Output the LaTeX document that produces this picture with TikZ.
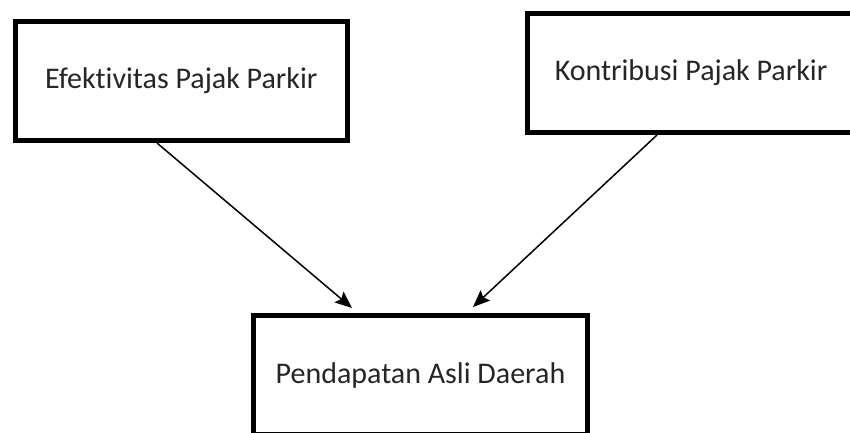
\documentclass[tikz,border=0pt]{standalone}
\usepackage{fontspec}
\setmainfont{Carlito}[Ligatures=NoCommon]
\usetikzlibrary{arrows.meta}

\begin{document}
\begin{tikzpicture}[x=1pt, y=1pt]
	\tikzset{box/.style = {draw, rectangle, line width=5pt, inner sep=0pt,
	minimum height=119pt, text=black!85, font=\fontsize{30}{36}\selectfont}}
	\tikzset{link/.style = {line width=1.5pt,
	-{Stealth[length=17pt, width=14pt, inset=3pt]}}}
	
	\useasboundingbox (0, 0) rectangle (850, 432);
	
	\node[box, minimum width=332.5pt] (efektivitas) at (181.25, 351)
	{Efektivitas Pajak Parkir};
	\node[box, minimum width=327pt] (kontribusi) at (691, 359)
	{Kontribusi Pajak Parkir};
	\node[box, minimum width=334pt] (pad) at (420.5, 57)
	{Pendapatan Asli Daerah};
	
	\draw[link] ([xshift=144.5pt]efektivitas.south west)
	-- ([xshift=101pt, yshift=5pt]pad.north west);
	\draw[link] ([xshift=132pt]kontribusi.south west)
	-- ([xshift=222pt, yshift=6pt]pad.north west);
\end{tikzpicture}
\end{document}
